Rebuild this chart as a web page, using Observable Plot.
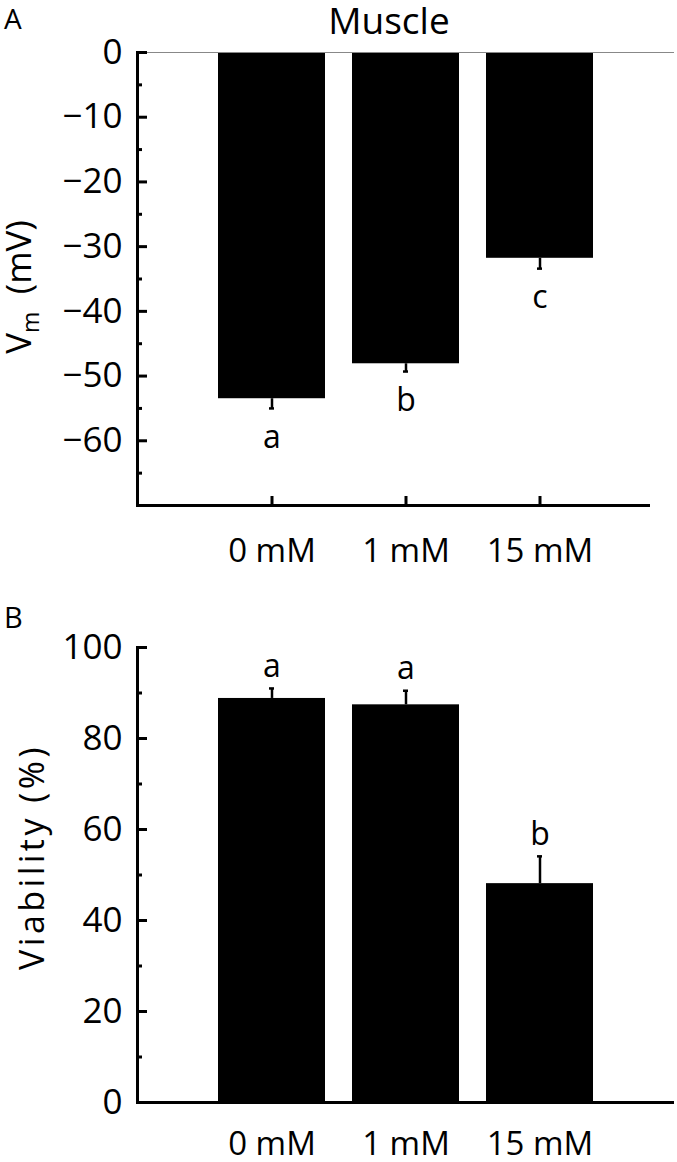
<!DOCTYPE html>
<html><head><meta charset="utf-8">
<script src="https://cdn.jsdelivr.net/npm/d3@7"></script>
<script src="https://cdn.jsdelivr.net/npm/@observablehq/plot@0.6"></script>
<style>
body{margin:0;background:#fff;overflow:hidden}
#wrap{position:relative;width:677px;height:1162px}
.panel{position:absolute;left:0}
</style>
</head><body><div id="wrap"><div id="pa" class="panel" style="top:0"></div><div id="pb" class="panel" style="top:580px"></div></div>
<script>
const categories = ["0 mM", "1 mM", "15 mM"];
const vmMean = [-53.5, -48.1, -31.8];
const vmErr = [1.5, 1.2, 1.6];
const vmLetters = ["a", "b", "c"];
const viabMean = [88.8, 87.4, 48.1];
const viabErr = [2.2, 3.1, 6.0];
const viabLetters = ["a", "a", "b"];
const vmMajorTicks = [0, -10, -20, -30, -40, -50, -60];
const vmMinorTicks = [-5, -15, -25, -35, -45, -55, -65];
const viabMajorTicks = [0, 20, 40, 60, 80, 100];
const viabMinorTicks = [10, 30, 50, 70, 90];

const A = categories.map((c, i) => ({c, v: vmMean[i], end: vmMean[i] - vmErr[i], L: vmLetters[i]}));
const B = categories.map((c, i) => ({c, v: viabMean[i], end: viabMean[i] + viabErr[i], L: viabLetters[i]}));

const FONT = "'Open Sans', sans-serif";
const FS = 33;
const TFS = 35;
const common = {
  width: 677,
  marginLeft: 137, marginRight: 3,
  x: {domain: categories, paddingInner: 0.2, paddingOuter: 0.6, label: null},
  style: {fontFamily: FONT, fontSize: FS + "px", color: "black", background: "white", overflow: "visible"}
};

const plotA = Plot.plot({
  ...common,
  height: 580, marginTop: 52, marginBottom: 75,
  y: {domain: [-70, 0], label: null},
  marks: [
    Plot.barY(A, {x: "c", y: "v", fill: "black"}),
    Plot.ruleX(A, {x: "c", y1: "v", y2: "end", strokeWidth: 2.5}),
    Plot.tickY(A, {x: "c", y: "end", strokeWidth: 2.5, insetLeft: 51, insetRight: 51}),
    Plot.text(A, {x: "c", y: "end", text: "L", dy: 29, fontSize: 32}),
    Plot.ruleY([0], {stroke: "#888", strokeWidth: 1.2}),
    Plot.ruleY([-70], {strokeWidth: 3, insetRight: 24}),
    Plot.frame({anchor: "left", strokeWidth: 3}),
    Plot.axisY(vmMajorTicks, {tickSize: -10, strokeWidth: 3, tickFormat: () => "", label: null}),
    Plot.axisY(vmMinorTicks, {tickSize: -5, strokeWidth: 3, tickFormat: () => "", label: null}),
    Plot.axisY(vmMajorTicks, {tickSize: 0, tickPadding: 15, fontSize: TFS, label: null}),
    Plot.axisX({tickSize: -9, strokeWidth: 3, tickFormat: () => "", label: null}),
    Plot.axisX({tickSize: 0, tickPadding: 33, fontSize: FS, label: null})
  ]
});

const plotB = Plot.plot({
  ...common,
  height: 582, marginTop: 67, marginBottom: 60,
  y: {domain: [0, 100], label: null},
  marks: [
    Plot.barY(B, {x: "c", y: "v", fill: "black"}),
    Plot.ruleX(B, {x: "c", y1: "v", y2: "end", strokeWidth: 2.5}),
    Plot.tickY(B, {x: "c", y: "end", strokeWidth: 2.5, insetLeft: 51, insetRight: 51}),
    Plot.text(B, {x: "c", y: "end", text: "L", dy: -22, fontSize: 32}),
    Plot.ruleY([0], {strokeWidth: 3}),
    Plot.frame({anchor: "left", strokeWidth: 3}),
    Plot.axisY(viabMajorTicks, {tickSize: -10, strokeWidth: 3, tickFormat: () => "", label: null}),
    Plot.axisY(viabMinorTicks, {tickSize: -5, strokeWidth: 3, tickFormat: () => "", label: null}),
    Plot.axisY(viabMajorTicks, {tickSize: 0, tickPadding: 15, fontSize: TFS, label: null}),
    Plot.axisX({tickSize: 0, tickPadding: 29, fontSize: FS, label: null})
  ]
});

document.getElementById("pa").appendChild(plotA);
document.getElementById("pb").appendChild(plotB);

const sa = d3.select(plotA);
sa.append("text").attr("x", 4).attr("y", 29).attr("font-size", 28).attr("text-anchor", "start").attr("font-family", FONT).text("A");
sa.append("text").attr("x", 389).attr("y", 34).attr("font-size", 37).attr("text-anchor", "middle").attr("font-family", FONT).text("Muscle");
const lab = sa.append("text").attr("transform", "translate(31,287) rotate(-90)").attr("text-anchor", "middle").attr("font-size", 35).attr("font-family", FONT);
lab.append("tspan").text("V");
lab.append("tspan").attr("font-size", 23).attr("dy", 8).text("m");
lab.append("tspan").attr("dy", -8).text("\u2002(mV)");

const sb = d3.select(plotB);
sb.append("text").attr("x", 4).attr("y", 48).attr("font-size", 29).attr("text-anchor", "start").attr("font-family", FONT).text("B");
sb.append("text").attr("transform", "translate(44,277) rotate(-90)").attr("text-anchor", "middle").attr("font-size", 34).attr("letter-spacing", 3.5).attr("font-family", FONT).text("Viability (%)");
</script>
</body></html>
